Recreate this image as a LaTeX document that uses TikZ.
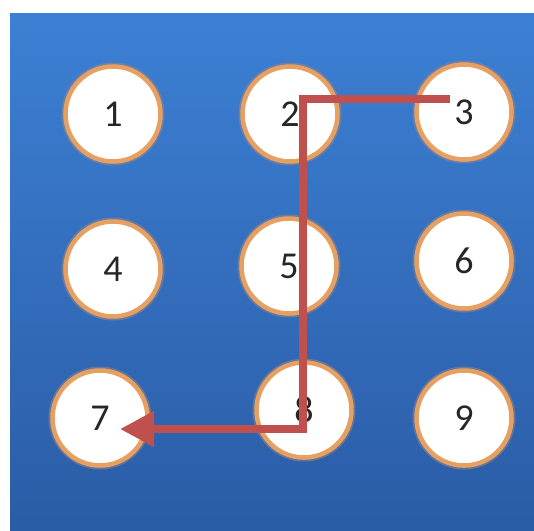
\documentclass[tikz,border=0pt]{standalone}
\usepackage{fontspec}
\setmainfont{Carlito}
\usetikzlibrary{arrows.meta,calc}
\definecolor{bgtop}{RGB}{60,128,212}
\definecolor{bgbot}{RGB}{43,92,166}
\definecolor{ring}{RGB}{230,160,98}
\definecolor{halo}{RGB}{200,150,120}
\definecolor{pathred}{RGB}{192,80,77}

\begin{document}
\begin{tikzpicture}[x=1pt,y=-1pt,
  key/.style={circle, fill=white, draw=ring, line width=4.5pt,
    minimum size=95pt, inner sep=0pt, text=black!85,
    preaction={draw=halo!70!bgbot, line width=8pt, opacity=0.55},
    font=\fontsize{38}{38}\selectfont},
  route/.style={draw=pathred, line width=8pt, line join=miter,
    -{Triangle[length=34pt,width=34pt]}}]
\useasboundingbox (0,0) rectangle (534,530);
\fill[white] (0,0) rectangle (534,530);
\shade[top color=bgtop, bottom color=bgbot] (10,13) rectangle (534,530);

% keypad
\node[key] (k1) at (113,114) {1};
\node[key] (k2) at (290,114) {2};
\node[key] (k3) at (464,112) {3};
\node[key] (k4) at (113,269) {4};
\node[key] (k5) at (289,266) {5};
\node[key] (k6) at (464,261) {6};
\node[key] (k7) at (100,418) {7};
\node[key] (k8) at (304,410) {8};
\node[key] (k9) at (464,418) {9};

% unlock pattern 3 -> 2 -> 5 -> 8 -> 7
\coordinate (p0) at ($(k3)+(-14,-13)$);
\coordinate (p1) at (303,99);
\coordinate (p2) at (303,429);
\coordinate (p3) at (120,429);
\path[route] (p0) -- (p1) -- (p2) -- (p3);
\end{tikzpicture}
\end{document}
